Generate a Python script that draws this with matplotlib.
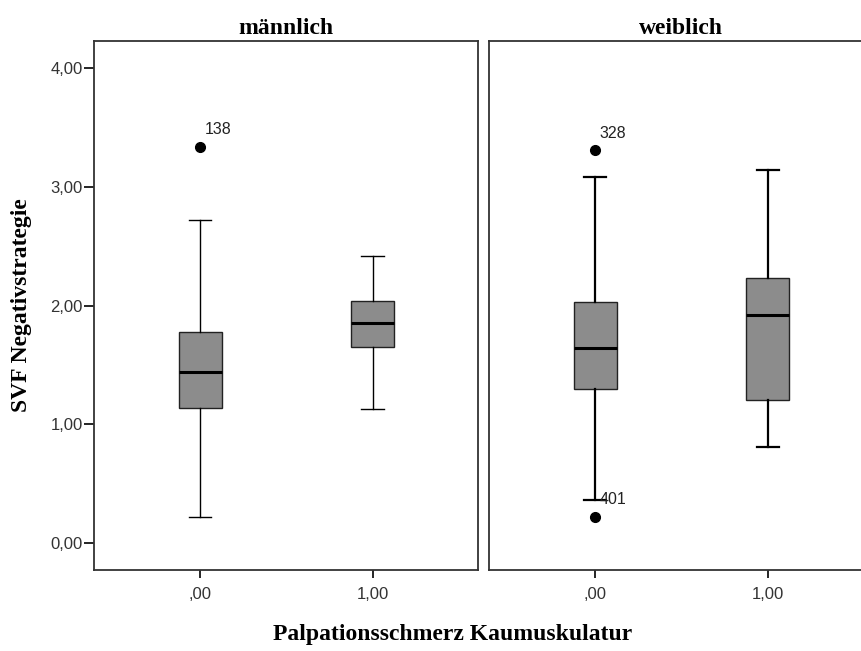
import matplotlib.pyplot as plt

# SPSS-style grouped boxplot: SVF Negativstrategie by Palpationsschmerz, split by sex
panels = ["männlich", "weiblich"]
groups = [",00", "1,00"]

# five-number summaries per panel, per group (whislo, q1, med, q3, whishi)
whislo = [[0.22, 1.13], [0.36, 0.81]]
q1 = [[1.14, 1.65], [1.30, 1.20]]
med = [[1.44, 1.85], [1.64, 1.92]]
q3 = [[1.78, 2.04], [2.03, 2.23]]
whishi = [[2.72, 2.42], [3.08, 3.14]]

# outliers: (panel, group, value, case id)
outlier_panel = [0, 1, 1]
outlier_group = [0, 0, 0]
outlier_value = [3.34, 3.31, 0.22]
outlier_label = ["138", "328", "401"]

ytick_vals = [0, 1, 2, 3, 4]
ytick_labels = ["0,00", "1,00", "2,00", "3,00", "4,00"]

serif = "Liberation Serif"
sans = "Liberation Sans"
box_color = "#8c8c8c"

fig = plt.figure(figsize=(8.62, 6.51), dpi=100)
axes = [fig.add_axes([0.109, 0.1244, 0.4455, 0.8126]),
        fig.add_axes([0.5673, 0.1244, 0.4455, 0.8126])]

for p, ax in enumerate(axes):
    lw = 1.0 if p == 0 else 1.6
    stats = []
    for g in range(len(groups)):
        fl = [v for pp, gg, v in zip(outlier_panel, outlier_group, outlier_value)
              if pp == p and gg == g]
        stats.append(dict(whislo=whislo[p][g], q1=q1[p][g], med=med[p][g],
                          q3=q3[p][g], whishi=whishi[p][g], fliers=fl))
    ax.bxp(stats, positions=[0, 1], widths=0.25, patch_artist=True,
           boxprops=dict(facecolor=box_color, edgecolor="#222222", linewidth=1.0),
           medianprops=dict(color="black", linewidth=2.2),
           whiskerprops=dict(color="black", linewidth=lw),
           capprops=dict(color="black", linewidth=lw),
           capwidths=0.13,
           flierprops=dict(marker="o", markerfacecolor="black",
                           markeredgecolor="black", markersize=7))

    for pp, gg, v, lab in zip(outlier_panel, outlier_group, outlier_value, outlier_label):
        if pp == p:
            ax.annotate(lab, (gg, v), xytext=(3, 12), textcoords="offset points",
                        fontsize=11.5, family=sans, va="center", ha="left",
                        color="#222222")

    ax.set_xlim(-0.615, 1.61)
    ax.set_ylim(-0.23, 4.23)
    ax.set_xticks([0, 1])
    ax.set_xticklabels(groups, family=sans, fontsize=12, color="#333333")
    ax.set_title(panels[p], family=serif, fontweight="bold", fontsize=17, pad=5)
    for s in ax.spines.values():
        s.set_linewidth(1.3)
        s.set_color("#333333")
    ax.tick_params(axis="x", length=6, width=1.2, pad=6)
    if p == 0:
        ax.set_yticks(ytick_vals)
        ax.set_yticklabels(ytick_labels, family=sans, fontsize=12, color="#333333")
        ax.tick_params(axis="y", length=7, width=1.2, pad=1)
        ax.set_ylabel("SVF Negativstrategie", family=serif, fontweight="bold",
                      fontsize=17, labelpad=13)
    else:
        ax.set_yticks([])

fig.text(0.525, 0.025, "Palpationsschmerz Kaumuskulatur", family=serif,
         fontweight="bold", fontsize=17, ha="center", va="center")

fig.savefig("out.png", dpi=100)
